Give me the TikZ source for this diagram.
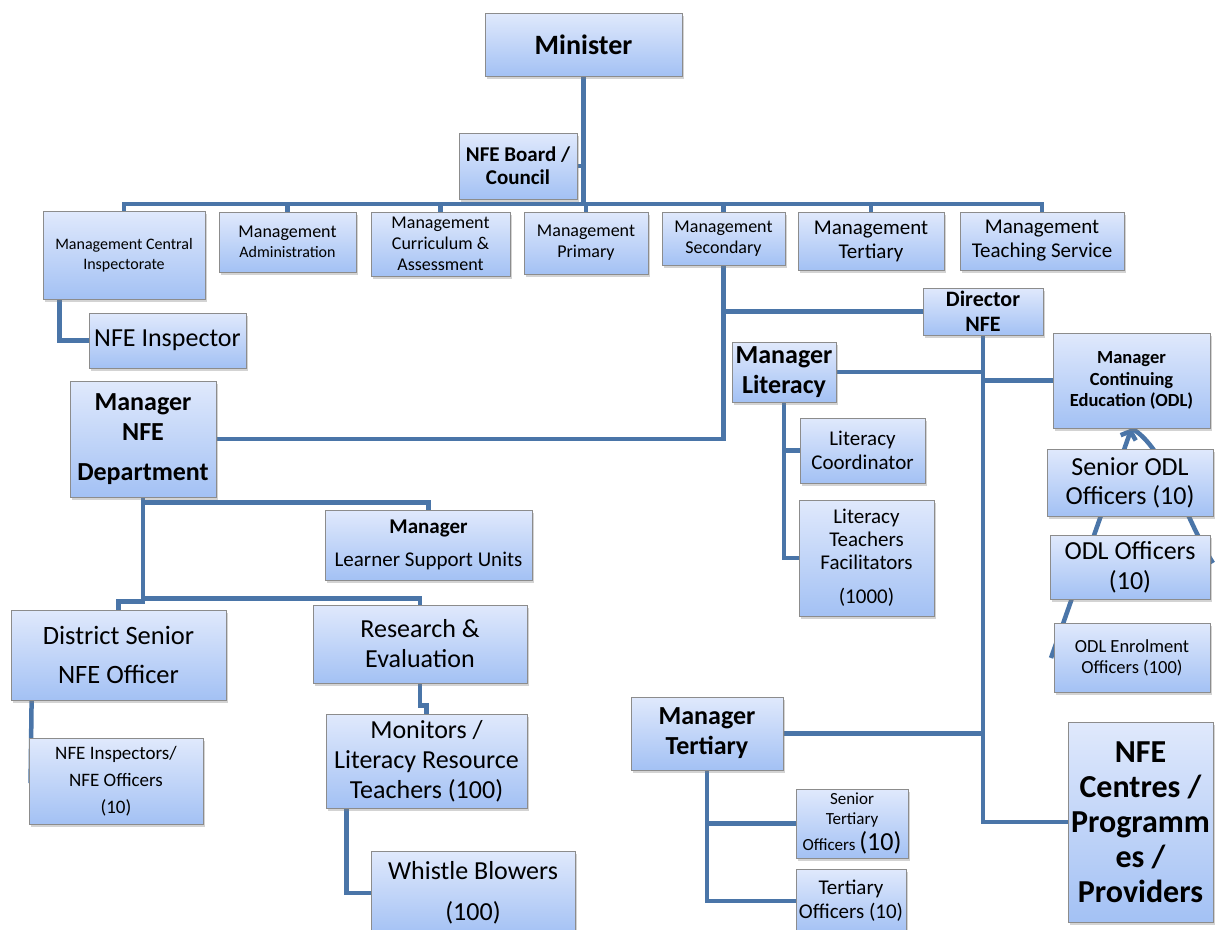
\documentclass[tikz,border=0pt]{standalone}
\usepackage{fontspec}
\setmainfont{Carlito}
\usetikzlibrary{positioning}
\usetikzlibrary{shadows}
\usetikzlibrary{backgrounds}
\usetikzlibrary{arrows.meta}
\definecolor{boxtop}{RGB}{224,233,252}
\definecolor{boxbot}{RGB}{163,193,244}
\definecolor{linkblue}{RGB}{74,117,168}
\tikzset{
	unit/.style={
		draw=black!45, line width=0.8pt,
		top color=boxtop, bottom color=boxbot,
		align=center, inner sep=0pt,
		drop shadow={shadow xshift=2pt, shadow yshift=-2.5pt, opacity=0.35},
	},
	boxsize/.style 2 args={minimum width=#1pt, minimum height=#2pt},
	fs/.style 2 args={font=\fontsize{#1}{#2}\selectfont},
	fsb/.style 2 args={font=\fontsize{#1}{#2}\selectfont\bfseries},
	link/.style={draw=linkblue, line width=4.5pt, line cap=rect},
}

\begin{document}
\begin{tikzpicture}[x=1pt, y=-1pt]
			\useasboundingbox (0,0) rectangle (1215,929);
			% Top
			\node[unit, boxsize={197}{63}, fsb={28}{30}] (min) at (583.5,44.5) {Minister};
			\node[unit, boxsize={118}{66}, fsb={21}{23}] (board) at (518,166) {NFE Board /\\Council};
			
			% Management row
			\node[unit, boxsize={162}{88}, fs={16}{20}] (mci) at (124,255) {Management Central\\Inspectorate};
			\node[unit, boxsize={137}{60}, fs={18}{20}] (madm) at (287.5,242) {Management\\{\fontsize{16}{20}\selectfont Administration}};
			\node[unit, boxsize={139}{64}, fs={18}{21}] (mcur) at (440.5,244) {Management\\Curriculum \&\\Assessment};
			\node[unit, boxsize={124}{62}, fs={18}{21}] (mpri) at (586,243) {Management\\Primary};
			\node[unit, boxsize={123}{53}, fs={18}{21}] (msec) at (723.5,238.5) {Management\\Secondary};
			\node[unit, boxsize={146}{58}, fs={21}{24}] (mter) at (871,241) {Management\\Tertiary};
			\node[unit, boxsize={164}{58}, fs={21}{24}] (mtea) at (1042,241) {Management\\Teaching Service};
			
			% NFE department side
			\node[unit, boxsize={157}{55}, fs={26}{30}] (insp) at (167.5,340.5) {NFE Inspector};
			\node[unit, boxsize={146}{116}, fsb={26}{30}] (mnfe) at (143,439) {Manager\\NFE\\[10pt]Department};
			\node[unit, boxsize={207}{70}, fs={21}{33}] (mlsu) at (428.5,545) {\textbf{Manager}\\Learner Support Units};
			\node[unit, boxsize={215}{90}, fs={26.5}{39}] (dsno) at (118.5,655) {District Senior\\NFE Officer};
			\node[unit, boxsize={214}{78}, fs={26}{30}] (re) at (420,644) {Research \&\\Evaluation};
			\node[unit, boxsize={201}{94}, fs={26}{30}] (mon) at (426.5,761) {Monitors /\\Literacy Resource\\Teachers (100)};
			\node[unit, boxsize={204}{84}, fs={26}{41}] (wb) at (473,893) {Whistle Blowers\\(100)};
			\node[unit, boxsize={174}{86}, fs={19}{27}] (nio) at (116,781) {NFE Inspectors/\\NFE Officers\\(10)};
			
			% Director side
			\node[unit, boxsize={120}{47}, fsb={22}{25}] (dir) at (983,311.5) {Director\\NFE};
			\node[unit, boxsize={104}{60}, fsb={26}{30}] (mlit) at (784,372) {Manager\\Literacy};
			\node[unit, boxsize={125}{65}, fs={21}{24}] (lcoord) at (862.5,450.5) {Literacy\\Coordinator};
			\node[unit, boxsize={135}{116}, fs={21}{23}] (ltf) at (866.5,558) {Literacy\\Teachers\\Facilitators\\[11pt](1000)};
			\node[unit, boxsize={157}{95}, fsb={18.5}{21.5}] (mce) at (1131.5,380.5) {Manager\\Continuing\\Education (ODL)};
			\node[unit, boxsize={166}{67}, fs={26}{29}] (sodl) at (1130,482.5) {Senior ODL\\Officers (10)};
			\node[unit, boxsize={160}{64}, fs={26}{30}] (odl) at (1130,567) {ODL Officers\\(10)};
			\node[unit, boxsize={156}{69}, fs={18.5}{21}] (enr) at (1132,657.5) {ODL Enrolment\\Officers (100)};
			\node[unit, boxsize={152}{73}, fsb={26}{30}] (mtert) at (707,733.5) {Manager\\Tertiary};
			\node[unit, boxsize={112}{69}, fs={17}{20}] (sto) at (852,823.5) {Senior\\Tertiary\\[3pt]Officers {\fontsize{26}{26}\selectfont(10)}};
			\node[unit, boxsize={110}{64}, fs={21}{24}] (to) at (851,901) {Tertiary\\Officers (10)};
			\node[unit, boxsize={145}{200}, fsb={32}{35}] (cent) at (1140.5,822) {NFE\\Centres /\\Programm\\es /\\Providers};
			
			\begin{scope}[on background layer]
				% Minister down to the management row
				\coordinate (bus) at (0,204);
				\draw[link] (min.south) -- (min.south |- bus);
				\draw[link] (board.east) -- (board.east -| min.south);
				\draw[link] (mci.north |- bus) -- (mtea.north |- bus);
				\foreach \n in {mci,madm,mcur,mpri,msec,mter,mtea}
					\draw[link] (\n.north) -- (\n.north |- bus);
				\draw[link] ([xshift=17pt]mci.south west) |- (insp.west);
				
				% Secondary to NFE department and director
				\draw[link] (msec.south) |- (mnfe.east);
				\draw[link] (dir.west) -- (dir.west -| msec.south);
				
				% NFE department
				\draw[link] (mnfe.south) -- ++(0,5) -| (mlsu.north);
				\draw[link] (mnfe.south) -- ++(0,101) -| (re.north);
				\draw[link] (mnfe.south) -- ++(0,104) -| (dsno.north);
				\draw[link] ([xshift=21pt]dsno.south west) -- ([xshift=2pt]nio.west);
				\draw[link] (re.south) -- ++(0,22) -| (mon.north);
				\draw[link] ([xshift=21pt]mon.south west) |- (wb.west);
				
				% Director NFE
				\draw[link] (dir.south) |- (cent.west);
				\draw[link] (mlit.east) -- (mlit.east -| dir.south);
				\draw[link] (mce.west) -- (mce.west -| dir.south);
				\draw[link] (mtert.east) -- (mtert.east -| dir.south);
				\draw[link] (mlit.south) |- (lcoord.west);
				\draw[link] (mlit.south) |- (ltf.west);
				\draw[link] (mtert.south) |- (sto.west);
				\draw[link] (mtert.south) |- (to.west);
				
				% ODL
				\coordinate (odlL) at (1051,658);
				\coordinate (odlR) at (1213,563);
				\draw[link, line cap=butt, -{Straight Barb[length=7pt,width=16pt]}] (odlL) -- (mce.south);
				\draw[link, line cap=butt] (mce.south) .. controls (1165,446) and (1188,525) .. (odlR);
			\end{scope}
		\end{tikzpicture}
\end{document}
